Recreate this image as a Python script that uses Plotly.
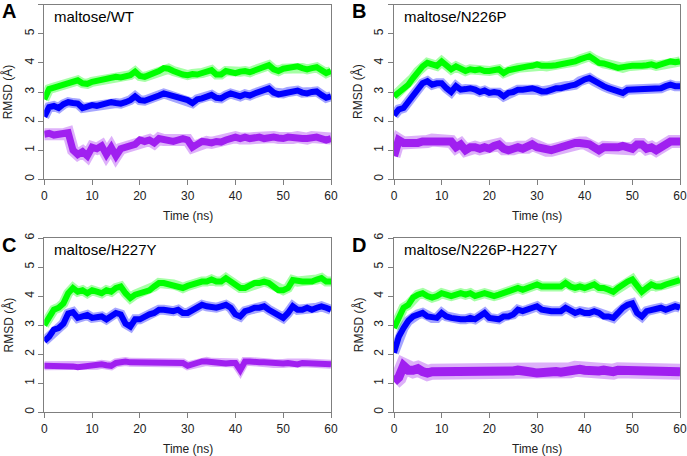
import plotly.graph_objects as go

# ---------------- data ----------------
time_ns = list(range(61))

panel_letters = ["A", "B", "C", "D"]
panel_titles = ["maltose/WT", "maltose/N226P", "maltose/H227Y", "maltose/N226P-H227Y"]
x_ticks = [0, 10, 20, 30, 40, 50, 60]
y_ticks = [0, 1, 2, 3, 4, 5, 6]

green_A = [2.75,3.10,3.15,3.20,3.25,3.30,3.35,3.40,3.30,3.28,
           3.35,3.38,3.42,3.45,3.50,3.52,3.50,3.55,3.58,3.70,
           3.55,3.52,3.58,3.62,3.72,3.82,3.80,3.72,3.65,3.60,
           3.58,3.62,3.60,3.65,3.70,3.75,3.60,3.60,3.72,3.70,
           3.65,3.70,3.72,3.68,3.75,3.82,3.85,3.92,3.78,3.72,
           3.80,3.82,3.85,3.88,3.82,3.78,3.82,3.85,3.75,3.65,
           3.72]
blue_A = [2.15,2.48,2.52,2.45,2.58,2.65,2.62,2.60,2.45,2.48,
          2.55,2.52,2.55,2.58,2.65,2.62,2.60,2.65,2.72,2.85,
          2.72,2.70,2.75,2.78,2.88,2.95,2.90,2.85,2.80,2.78,
          2.72,2.62,2.75,2.78,2.85,2.90,2.80,2.78,2.88,2.95,
          2.90,2.85,2.92,2.88,2.95,3.00,3.08,3.12,2.98,2.92,
          2.95,3.00,3.05,3.05,2.98,2.95,3.00,3.02,2.90,2.80,
          2.85]
purple_A = [1.55,1.58,1.52,1.55,1.55,1.60,1.00,0.85,0.95,0.80,
            1.10,1.05,1.15,0.85,1.10,0.80,1.05,1.10,1.15,1.20,
            1.35,1.30,1.35,1.25,1.40,1.35,1.35,1.30,1.35,1.40,
            1.35,1.10,1.20,1.30,1.28,1.25,1.30,1.28,1.35,1.40,
            1.45,1.40,1.45,1.40,1.42,1.45,1.40,1.45,1.45,1.42,
            1.40,1.45,1.42,1.45,1.40,1.40,1.45,1.45,1.40,1.35,
            1.40]

green_B = [2.85,3.00,3.10,3.25,3.48,3.70,3.88,4.00,3.95,3.90,
           4.05,3.90,3.78,3.88,3.78,3.72,3.78,3.75,3.78,3.72,
           3.72,3.75,3.78,3.65,3.75,3.78,3.83,3.85,3.88,3.90,
           3.95,3.90,3.88,3.90,3.92,3.95,3.98,4.00,4.05,4.12,
           4.17,4.23,4.12,4.00,3.98,3.95,3.88,3.83,3.83,3.88,
           3.90,3.88,3.90,3.92,3.95,3.90,3.95,4.00,4.05,4.02,
           4.05]
blue_B = [2.20,2.40,2.45,2.68,2.90,3.13,3.30,3.37,3.25,3.30,
          3.30,3.13,3.00,3.20,3.08,3.10,3.13,3.08,3.00,3.05,
          2.97,3.00,2.97,2.85,2.97,3.00,3.08,3.08,3.13,3.13,
          3.08,3.02,3.02,3.08,3.13,3.13,3.20,3.22,3.25,3.37,
          3.43,3.48,3.37,3.25,3.20,3.13,3.08,3.02,2.97,3.08,
          3.08,3.13,3.08,3.13,3.08,3.13,3.13,3.20,3.25,3.20,
          3.20]
purple_B = [0.80,1.35,1.25,1.25,1.20,1.25,1.30,1.30,1.35,1.35,
            1.35,1.35,1.30,1.10,1.20,1.00,1.10,1.10,1.05,1.10,
            1.05,1.15,1.20,1.05,1.00,1.05,1.10,1.05,1.10,1.20,
            1.10,1.05,1.00,1.00,1.05,1.10,1.15,1.25,1.25,1.25,
            1.25,1.20,1.10,1.00,1.10,1.10,1.05,1.10,1.15,1.10,
            1.05,1.20,1.20,1.05,1.10,1.00,1.10,1.25,1.30,1.30,
            1.30]

green_C = [3.00,3.30,3.53,3.60,3.75,4.10,4.28,4.15,4.20,4.10,
           4.20,4.15,4.10,4.20,4.15,4.28,4.33,4.10,3.93,4.05,
           4.10,4.15,4.20,4.33,4.45,4.45,4.40,4.40,4.35,4.28,
           4.35,4.40,4.50,4.50,4.50,4.57,4.50,4.50,4.62,4.50,
           4.40,4.28,4.28,4.35,4.45,4.45,4.50,4.45,4.35,4.20,
           4.20,4.28,4.55,4.50,4.50,4.50,4.50,4.57,4.62,4.50,
           4.50]
blue_C = [2.45,2.60,2.85,2.90,3.05,3.40,3.45,3.25,3.30,3.35,
          3.25,3.30,3.30,3.20,3.30,3.42,3.37,3.05,2.95,3.20,
          3.20,3.30,3.37,3.42,3.53,3.53,3.48,3.48,3.53,3.42,
          3.42,3.53,3.65,3.70,3.65,3.60,3.60,3.65,3.70,3.60,
          3.37,3.30,3.48,3.53,3.60,3.60,3.65,3.53,3.42,3.30,
          3.25,3.42,3.65,3.53,3.53,3.60,3.53,3.60,3.65,3.60,
          3.53]
purple_C = [1.60,1.60,1.60,1.62,1.60,1.60,1.58,1.55,1.58,1.60,
            1.60,1.62,1.65,1.62,1.60,1.70,1.75,1.75,1.72,1.72,
            1.70,1.70,1.70,1.72,1.72,1.72,1.75,1.72,1.72,1.70,
            1.60,1.65,1.72,1.75,1.75,1.72,1.72,1.70,1.68,1.70,
            1.70,1.45,1.75,1.75,1.72,1.72,1.72,1.70,1.68,1.65,
            1.68,1.70,1.68,1.65,1.70,1.70,1.70,1.70,1.68,1.65,
            1.65]

green_D = [2.90,3.30,3.60,3.70,3.95,4.05,4.10,4.00,3.95,4.00,
           4.10,4.05,4.00,4.05,4.10,4.05,4.10,4.00,4.05,4.10,
           4.05,4.00,4.05,4.10,4.15,4.22,4.28,4.22,4.28,4.33,
           4.40,4.33,4.33,4.28,4.33,4.33,4.45,4.33,4.28,4.33,
           4.28,4.33,4.40,4.28,4.28,4.22,4.15,4.28,4.40,4.50,
           4.57,4.33,4.15,4.28,4.40,4.33,4.33,4.40,4.45,4.50,
           4.55]
blue_D = [2.05,2.60,2.90,3.15,3.30,3.37,3.42,3.30,3.25,3.25,
          3.42,3.30,3.25,3.20,3.20,3.20,3.25,3.20,3.30,3.42,
          3.25,3.20,3.20,3.30,3.30,3.37,3.53,3.48,3.53,3.60,
          3.65,3.53,3.48,3.48,3.48,3.48,3.60,3.48,3.42,3.48,
          3.42,3.42,3.48,3.42,3.30,3.30,3.25,3.42,3.60,3.70,
          3.75,3.42,3.30,3.48,3.53,3.60,3.60,3.53,3.60,3.65,
          3.60]
purple_D = [1.05,1.20,1.60,1.45,1.45,1.50,1.40,1.35,1.40,1.40,
            1.40,1.38,1.35,1.38,1.35,1.38,1.40,1.35,1.40,1.35,
            1.35,1.38,1.40,1.42,1.40,1.42,1.45,1.40,1.35,1.38,
            1.35,1.38,1.40,1.42,1.40,1.38,1.40,1.45,1.50,1.48,
            1.45,1.42,1.40,1.42,1.45,1.42,1.40,1.45,1.45,1.42,
            1.40,1.42,1.40,1.40,1.45,1.40,1.42,1.40,1.40,1.38,
            1.40]

panels = [
    (green_A, blue_A, purple_A),
    (green_B, blue_B, purple_B),
    (green_C, blue_C, purple_C),
    (green_D, blue_D, purple_D),
]

# ---------------- styles / layout ----------------
W, H = 687, 456
GREEN, BLUE, PURPLE = "#00ff00", "#0000ff", "#a020f0"
# (core width, halo width) per panel for the purple band; green/blue common
purple_widths = [(7, 12), (8, 13), (6, 9), (9, 16)]
gb_widths = (6, 10)
FONT = "Liberation Sans, Arial, sans-serif"
AXC = "#7f7f7f"

# plot boxes in pixels: (left, right, top, bottom)
boxes = [(44.3, 331, 4.7, 179.3), (394, 680, 4.7, 179.3),
         (44.3, 331, 238, 412.3), (394, 680, 238, 412.3)]

fig = go.Figure()
layout = dict(width=W, height=H, margin=dict(l=0, r=0, t=0, b=0, autoexpand=False),
              paper_bgcolor="white", plot_bgcolor="white",
              showlegend=False, font=dict(family=FONT, color="#222"))
annotations = []

for i, ((g, b, p), (l, r, t, btm)) in enumerate(zip(panels, boxes)):
    n = "" if i == 0 else str(i + 1)
    xa, ya = "x" + n, "y" + n
    series = ((p, PURPLE, purple_widths[i]), (b, BLUE, gb_widths), (g, GREEN, gb_widths))
    for vals, col, (wcore, whalo) in series:
        fig.add_trace(go.Scatter(x=time_ns, y=vals, mode="lines", xaxis=xa, yaxis=ya,
                                 opacity=0.35, line=dict(color=col, width=whalo),
                                 hoverinfo="skip"))
        fig.add_trace(go.Scatter(x=time_ns, y=vals, mode="lines", xaxis=xa, yaxis=ya,
                                 line=dict(color=col, width=wcore), hoverinfo="skip"))
    common = dict(showline=True, linecolor=AXC, linewidth=1, mirror=True,
                  ticks="outside", ticklen=5, tickcolor=AXC, tickwidth=1,
                  showgrid=False, zeroline=False, automargin=False,
                  tickfont=dict(size=12, color="#222"))
    layout["xaxis" + n] = dict(domain=[l / W, r / W], range=[0, 60], tickvals=x_ticks,
                               anchor=ya, **common)
    layout["yaxis" + n] = dict(domain=[1 - btm / H, 1 - t / H], range=[0, 6], tickvals=y_ticks,
                               tickangle=-90, anchor=xa, **common)
    # panel letter
    annotations.append(dict(text="<b>%s</b>" % panel_letters[i], x=(l - 35) / W, y=1 - (t + 6.5) / H,
                            xref="paper", yref="paper", showarrow=False,
                            font=dict(size=20, color="black"), xanchor="center", yanchor="middle"))
    # panel title
    annotations.append(dict(text=panel_titles[i], x=(l + 8) / W, y=1 - (t + 11.5) / H,
                            xref="paper", yref="paper", showarrow=False,
                            font=dict(size=15, color="black"), xanchor="left", yanchor="middle"))
    # axis titles
    annotations.append(dict(text="Time (ns)", x=((l + r) / 2) / W, y=1 - (btm + 37) / H,
                            xref="paper", yref="paper", showarrow=False,
                            font=dict(size=12, color="#222"), xanchor="center", yanchor="middle"))
    annotations.append(dict(text="RMSD (Å)", x=(l - 36) / W, y=1 - ((t + btm) / 2) / H,
                            xref="paper", yref="paper", showarrow=False, textangle=-90,
                            font=dict(size=12, color="#222"), xanchor="center", yanchor="middle"))

layout["annotations"] = annotations
fig.update_layout(**layout)
fig.write_html("out.html", config={"displayModeBar": False},
               post_script="document.body.style.margin='0';document.body.style.padding='0';")
